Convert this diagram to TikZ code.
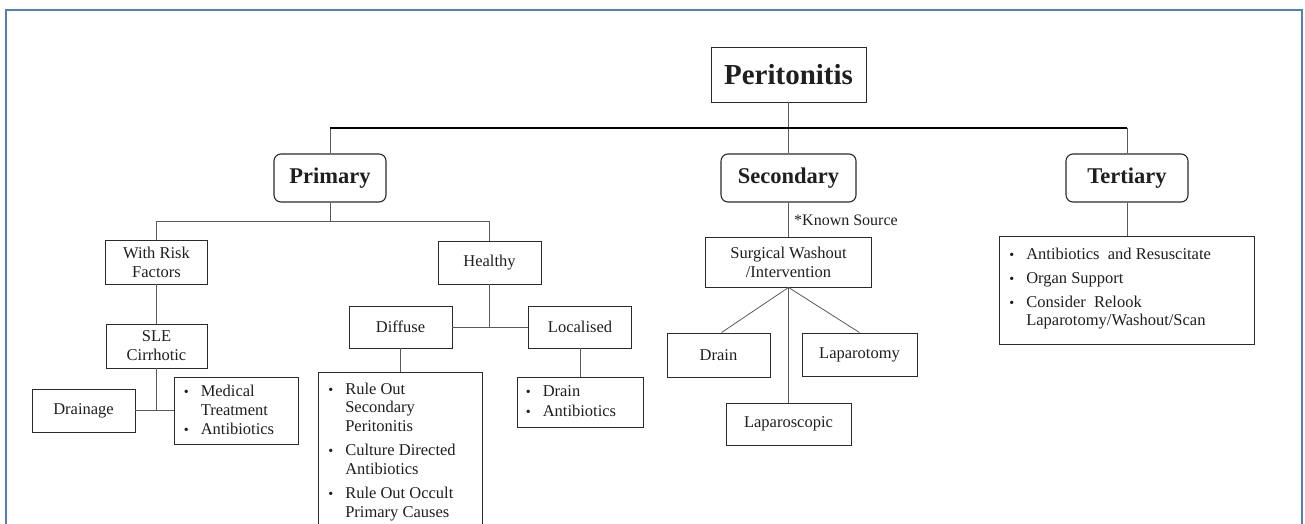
\documentclass[tikz,border=0pt]{standalone}
\usepackage{fontspec}
\setmainfont{Liberation Serif}
\usetikzlibrary{calc}
\definecolor{framecol}{HTML}{4F81BD}
\definecolor{linecol}{HTML}{5A5A5A}
\definecolor{boxcol}{HTML}{2A2A2A}
\newcommand{\bl}{\makebox[7pt][c]{\fontsize{14}{14}\selectfont\textbullet}}
\begin{document}
\begin{tikzpicture}[x=1pt,y=-1pt,
  box/.style={draw=boxcol, line width=0.9pt, rectangle, inner sep=0pt, align=center,
    font=\fontsize{16.5}{19}\selectfont, text=black!88},
  catbox/.style={box, rounded corners=7pt, line width=1.1pt,
    font=\bfseries\fontsize{22.5}{26}\selectfont},
  listtext/.style={inner sep=0pt, anchor=north west, align=left, text=black!88,
    font=\fontsize{16.5}{18.5}\selectfont},
  conn/.style={draw=linecol, line width=0.8pt},
  heavy/.style={draw=black, line width=1.6pt},
  mid/.style={draw=linecol, line width=1.3pt}]
\useasboundingbox (0,0) rectangle (1305,524);
\clip (0,0) rectangle (1305,524);
\fill[white] (0,0) rectangle (1305,524);
\draw[framecol, line width=2.6pt] (6,540) -- (6,10) -- (1302,10) -- (1302,540);

% top level
\node[box, font=\bfseries\fontsize{29}{32}\selectfont, minimum width=155, minimum height=55] (peri) at (788.5,74.5) {Peritonitis};
\node[catbox, minimum width=112, minimum height=48] (primary) at (330,178) {Primary};
\node[catbox, minimum width=135, minimum height=48] (secondary) at (788.5,178) {Secondary};
\node[catbox, minimum width=122, minimum height=48] (tertiary) at (1127,178) {Tertiary};

\coordinate (barL) at (330,128);
\coordinate (barM) at (788.5,128);
\coordinate (barR) at (1127,128);
\draw[conn] (peri.south) -- (barM);
\draw[conn] (barL) -- (primary.north);
\draw[conn] (barM) -- (secondary.north);
\draw[conn] (barR) -- (tertiary.north);
\draw[heavy] (barL) -- (barR);

% primary branch
\node[box, minimum width=102, minimum height=44] (wrf) at (156.5,262) {With Risk\\Factors};
\node[box, minimum width=103, minimum height=43] (healthy) at (489.5,262.5) {Healthy};
\coordinate (pb) at (330,221);
\draw[conn] (primary.south) -- (pb);
\draw[conn] (wrf.north) -- (wrf.north |- pb) -- (healthy.north |- pb) -- (healthy.north);

\node[box, minimum width=101, minimum height=44] (sle) at (156.5,346) {SLE\\Cirrhotic};
\draw[conn] (wrf.south) -- (sle.north);

\node[box, minimum width=103, minimum height=43] (drainage) at (83.5,410.5) {Drainage};
\node[box, minimum width=124, minimum height=67] (medbox) at (236,410.5) {};
\node[listtext, font=\fontsize{16.5}{19}\selectfont] (medtext) at ($(medbox.north west)+(9,6)$)
  {\begin{tabular}{@{}l@{\hspace{11pt}}l@{}}\bl & Medical\\ & Treatment\\ \bl & Antibiotics\end{tabular}};
\coordinate (sj) at (156.5,410.5);
\draw[conn] (sle.south) -- (sj);
\draw[conn] (drainage.east) -- (medbox.west);

\node[box, minimum width=103, minimum height=42] (diffuse) at (400.5,327) {Diffuse};
\node[box, minimum width=103, minimum height=42] (localised) at (580,327) {Localised};
\draw[mid] (healthy.south) -- (healthy.south |- diffuse.east);
\draw[conn] (diffuse.east) -- (localised.west);

\node[box, anchor=north, minimum width=164, minimum height=190] (difflist) at (400.5,372) {};
\node[listtext] (difftext) at ($(difflist.north west)+(9,9)$)
  {\begin{tabular}{@{}l@{\hspace{11pt}}l@{}}\bl & Rule Out\\ & Secondary\\ & Peritonitis\\[6pt]
   \bl & Culture Directed\\ & Antibiotics\\[6pt]
   \bl & Rule Out Occult\\ & Primary Causes\end{tabular}};
\draw[conn] (diffuse.south) -- (difflist.north);

\node[box, minimum width=126, minimum height=50] (loclist) at (580,402) {};
\node[listtext] (loctext) at ($(loclist.north west)+(8,7)$)
  {\begin{tabular}{@{}l@{\hspace{11pt}}l@{}}\bl & Drain\\[1.5pt] \bl & Antibiotics\end{tabular}};
\draw[conn] (localised.south) -- (loclist.north);

% secondary branch
\node[box, minimum width=166, minimum height=50] (surgical) at (788.5,262) {Surgical Washout\\/Intervention};
\draw[conn] (secondary.south) -- (surgical.north);
\node[anchor=west, inner sep=0pt, font=\fontsize{16}{18}\selectfont, text=black!88] (known) at (794,220) {*Known Source};

\node[box, minimum width=103, minimum height=44] (drain) at (718.5,355) {Drain};
\node[box, minimum width=115, minimum height=43] (laparotomy) at (859.5,354.5) {Laparotomy};
\node[box, minimum width=125, minimum height=42] (laparoscopic) at (788.5,424) {Laparoscopic};
\draw[conn] (surgical.south) -- ([xshift=3pt]drain.north);
\draw[conn] (surgical.south) -- (laparotomy.north);
\draw[conn] (surgical.south) -- (laparoscopic.north);

% tertiary branch
\node[box, minimum width=255, minimum height=108] (tlist) at (1127,290) {};
\draw[conn] (tertiary.south) -- (tlist.north);
\node[listtext, font=\fontsize{16.5}{18}\selectfont] (ttext) at ($(tlist.north west)+(9,11)$)
  {\begin{tabular}{@{}l@{\hspace{11pt}}l@{}}\bl & Antibiotics\ \ and Resuscitate\\[6pt]
   \bl & Organ Support\\[6pt]
   \bl & Consider\ \ Relook\\ & Laparotomy/Washout/Scan\end{tabular}};
\end{tikzpicture}
\end{document}
